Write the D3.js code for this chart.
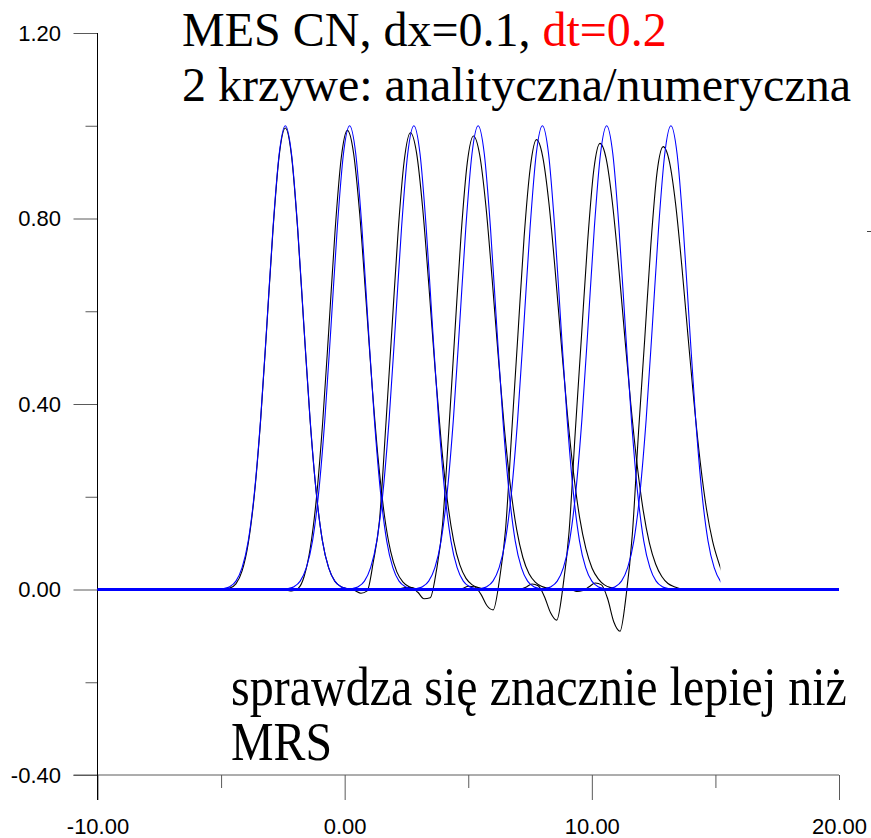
<!DOCTYPE html>
<html>
<head>
<meta charset="utf-8">
<script src="https://cdn.jsdelivr.net/npm/d3@7"></script>
<style>
body { margin: 0; background: #fff; }
#chart { width: 871px; height: 838px; }
.tick text { font-family: "Liberation Sans", Arial, sans-serif; font-size: 22px; fill: #000; }
.tick line { stroke: #5a5a5a; }
.title { font-family: "Liberation Serif", "Times New Roman", serif; fill: #000; }
</style>
</head>
<body>
<div id="chart"></div>
<script>
// axis ticks
var xMajor = [-10, 0, 10, 20];
var xMinor = [-5, 5, 15];
var yMajor = [-0.4, 0, 0.4, 0.8, 1.2];
var yMinor = [-0.2, 0.2, 0.6, 1.0];

// analytic solution (blue): peak centres and shape read around each centre
var analyticCenters = [-2.4, 0.2, 2.8, 5.4, 8.0, 10.6, 13.2];
var analyticOffsets = [-3, -2.75, -2.5, -2.25, -2, -1.75, -1.5, -1.25, -1, -0.75, -0.5, -0.25, 0,
                       0.25, 0.5, 0.75, 1, 1.25, 1.5, 1.75, 2, 2.25, 2.5, 2.75, 3];
var analyticProfile = [0, 0.0005, 0.002, 0.006, 0.018, 0.047, 0.105, 0.21, 0.368, 0.57, 0.779, 0.939, 1,
                       0.939, 0.779, 0.57, 0.368, 0.21, 0.105, 0.047, 0.018, 0.006, 0.002, 0.0005, 0];

// numerical solution (black): peak positions and values around each peak
var numericCenters = [-2.4, 0.11, 2.66, 5.21, 7.76, 10.33, 12.89];
var numericOffsets = [-3.75, -3.5, -3.25, -3, -2.75, -2.5, -2.25, -2, -1.75, -1.5, -1.25, -1, -0.75, -0.5, -0.25, 0,
                      0.25, 0.5, 0.75, 1, 1.25, 1.5, 1.75, 2, 2.25, 2.5, 2.75, 3, 3.5];
var numeric1 = [0, 0, 0, 0, 0, 0.001, 0.003, 0.012, 0.040, 0.100, 0.206, 0.365, 0.567, 0.775, 0.935, 0.995,
                0.935, 0.775, 0.567, 0.366, 0.209, 0.105, 0.047, 0.018, 0.006, 0.002, 0, 0, 0];
var numeric2 = [0, 0, 0, 0, 0, -0.001, -0.003, 0.002, 0.028, 0.09, 0.198, 0.36, 0.562, 0.772, 0.93, 0.99,
                0.941, 0.809, 0.627, 0.440, 0.279, 0.159, 0.082, 0.038, 0.016, 0.006, 0.002, 0.001, 0];
var numeric3 = [0, 0, 0, 0, 0.001, 0.002, -0.002, -0.008, -0.003, 0.06, 0.15, 0.35, 0.56, 0.77, 0.925, 0.985,
                0.941, 0.820, 0.653, 0.474, 0.315, 0.190, 0.105, 0.053, 0.024, 0.010, 0.004, 0.001, 0];
var numeric4 = [0, 0, 0, 0.001, 0.004, 0.004, -0.006, -0.02, -0.018, 0.04, 0.14, 0.34, 0.555, 0.765, 0.92, 0.978,
                0.938, 0.829, 0.674, 0.505, 0.348, 0.221, 0.129, 0.069, 0.034, 0.016, 0.007, 0.003, 0];
var numeric5 = [0, 0, 0, 0.002, 0.007, 0.006, -0.01, -0.035, -0.044, 0.02, 0.13, 0.34, 0.55, 0.76, 0.91, 0.97,
                0.934, 0.835, 0.692, 0.532, 0.379, 0.251, 0.154, 0.088, 0.046, 0.023, 0.010, 0.004, 0];
var numeric6 = [0, 0, 0.001, 0.005, 0.012, 0.008, -0.015, -0.05, -0.066, 0.005, 0.125, 0.34, 0.545, 0.75, 0.905, 0.962,
                0.929, 0.835, 0.700, 0.547, 0.398, 0.270, 0.170, 0.100, 0.055, 0.028, 0.013, 0.006, 0];
var numeric7 = [0, -0.004, -0.002, 0.006, 0.014, 0.01, -0.02, -0.07, -0.09, -0.012, 0.12, 0.34, 0.54, 0.745, 0.9, 0.955,
                0.922, 0.831, 0.698, 0.547, 0.400, 0.273, 0.173, 0.103, 0.057, 0.022, 0.008, 0.003, 0];
var numericValues = [numeric1, numeric2, numeric3, numeric4, numeric5, numeric6, numeric7];

// x where each pair of curves stops
var curveEnd = [20, 20, 20, 20, 20, 20, 15.2];

var width = 871, height = 838;

var svg = d3.select("#chart")
    .append("svg")
    .attr("width", width)
    .attr("height", height);

var xScale = d3.scaleLinear()
    .domain([-10, 20])
    .range([97.5, 839]);

var yScale = d3.scaleLinear()
    .domain([-0.4, 1.2])
    .range([775, 33]);

// plain hyphen for negatives, like the original
var fmt = function(d) { return d3.format(".2f")(d).replace("\u2212", "-"); };

// axes
var yAxis = svg.append("g")
    .attr("transform", "translate(" + xScale(-10) + ",0)")
    .call(d3.axisLeft(yScale).tickValues(yMajor).tickSize(24).tickPadding(12.5).tickFormat(fmt));
yAxis.select(".domain").remove();

var yAxisMinor = svg.append("g")
    .attr("transform", "translate(" + xScale(-10) + ",0)")
    .call(d3.axisLeft(yScale).tickValues(yMinor).tickSize(12).tickFormat(""));
yAxisMinor.select(".domain").remove();

var xAxis = svg.append("g")
    .attr("transform", "translate(0," + yScale(-0.4) + ")")
    .call(d3.axisBottom(xScale).tickValues(xMajor).tickSize(25).tickPadding(18).tickFormat(fmt));
xAxis.select(".domain").remove();

var xAxisMinor = svg.append("g")
    .attr("transform", "translate(0," + yScale(-0.4) + ")")
    .call(d3.axisBottom(xScale).tickValues(xMinor).tickSize(13).tickFormat(""));
xAxisMinor.select(".domain").remove();

svg.append("line")
    .attr("x1", xScale(-10) - 24).attr("x2", xScale(20))
    .attr("y1", yScale(-0.4)).attr("y2", yScale(-0.4))
    .attr("stroke", "#5a5a5a");

svg.append("line")
    .attr("x1", xScale(-10)).attr("x2", xScale(-10))
    .attr("y1", yScale(1.2)).attr("y2", yScale(-0.4) + 25)
    .attr("stroke", "#000");

// small stray mark at right edge
svg.append("line")
    .attr("x1", 867).attr("x2", 871)
    .attr("y1", 231.5).attr("y2", 231.5)
    .attr("stroke", "#444");

// clip for the last pair of curves
svg.append("clipPath").attr("id", "clipLast")
    .append("rect")
    .attr("x", xScale(-10)).attr("y", 0)
    .attr("width", xScale(curveEnd[6]) - xScale(-10))
    .attr("height", height);

var line = d3.line()
    .x(function(d) { return xScale(d[0]); })
    .y(function(d) { return yScale(d[1]); })
    .curve(d3.curveMonotoneX);

function buildPoints(c, offsets, values) {
    var pts = [[-10, 0]];
    offsets.forEach(function(o, i) { pts.push([c + o, values[i]]); });
    pts.push([20, 0]);
    return pts;
}

var numericData = numericCenters.map(function(c, i) { return buildPoints(c, numericOffsets, numericValues[i]); });
var analyticData = analyticCenters.map(function(c) { return buildPoints(c, analyticOffsets, analyticProfile); });

svg.selectAll(".numeric")
    .data(numericData)
    .enter()
    .append("path")
        .attr("class", "numeric")
        .attr("d", line)
        .attr("fill", "none")
        .attr("stroke", "#000")
        .attr("stroke-width", 1.1)
        .attr("clip-path", function(d, i) { return i === 6 ? "url(#clipLast)" : null; });

svg.selectAll(".analytic")
    .data(analyticData)
    .enter()
    .append("path")
        .attr("class", "analytic")
        .attr("d", line)
        .attr("fill", "none")
        .attr("stroke", "#0000ff")
        .attr("stroke-width", 1.1)
        .attr("clip-path", function(d, i) { return i === 6 ? "url(#clipLast)" : null; });

// thick zero level
svg.append("line")
    .attr("x1", xScale(-10)).attr("x2", xScale(20))
    .attr("y1", yScale(0)).attr("y2", yScale(0))
    .attr("stroke", "#0000ff")
    .attr("stroke-width", 3);

// texts
var t1 = svg.append("text").attr("class", "title")
    .attr("x", 182).attr("y", 46)
    .style("font-size", "48px");
t1.append("tspan").text("MES CN, dx=0.1, ");
t1.append("tspan").attr("fill", "#ff0000").text("dt=0.2");

svg.append("text").attr("class", "title")
    .attr("x", 182).attr("y", 101)
    .style("font-size", "48px")
    .text("2 krzywe: analityczna/numeryczna");

// lower note is set in a narrower, taller face: squeeze it horizontally
function squeezed(str, x, y, w) {
    var t = svg.append("text").attr("class", "title")
        .style("font-size", "55px")
        .text(str);
    var s = w / t.node().getComputedTextLength();
    t.attr("transform", "translate(" + x + "," + y + ") scale(" + s + ",1)");
}
squeezed("sprawdza się znacznie lepiej niż", 231, 705, 616);
squeezed("MRS", 231, 760, 101);
</script>
</body>
</html>
